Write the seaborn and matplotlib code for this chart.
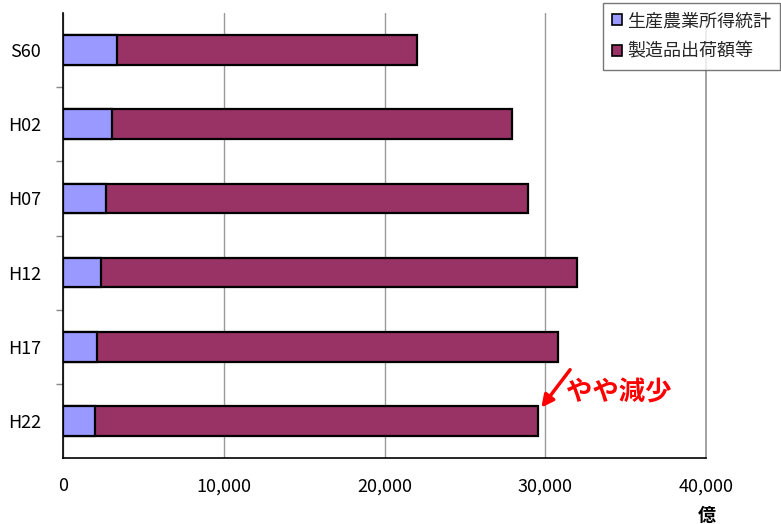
import matplotlib
matplotlib.use("Agg")
import matplotlib.pyplot as plt
from matplotlib.patches import Patch
from matplotlib.ticker import FixedLocator, FuncFormatter
import seaborn as sns
import pandas as pd

# Period labels (Showa 60 to Heisei 22)
years = ["S60", "H02", "H07", "H12", "H17", "H22"]
# Agricultural production income (生産農業所得統計), 億円
farm_income = [3360, 3050, 2670, 2360, 2120, 1990]
# Manufactured goods shipments etc. (製造品出荷額等), 億円
shipments = [18660, 24880, 26260, 29620, 28670, 27560]
x_ticks = [0, 10000, 20000, 30000, 40000]

totals = [a + b for a, b in zip(farm_income, shipments)]
df = pd.DataFrame({"year": years, "farm": farm_income, "total": totals})

sns.set_theme(style="white")
plt.rcParams["font.family"] = ["Noto Sans CJK JP", "DejaVu Sans"]

blue = "#9999FF"
wine = "#993366"

fig = plt.figure(figsize=(7.81, 5.24), dpi=100)
ax = fig.add_axes([63 / 781, (524 - 458) / 524, (706 - 63) / 781, (458 - 13) / 524])

# Stacked horizontal bars: totals underneath, farm income drawn on top
sns.barplot(data=df, y="year", x="total", orient="h", color=wine, width=0.4,
            edgecolor="black", linewidth=1.6, saturation=1, ax=ax, zorder=3)
sns.barplot(data=df, y="year", x="farm", orient="h", color=blue, width=0.4,
            edgecolor="black", linewidth=1.6, saturation=1, ax=ax, zorder=4)

ax.set_xlim(0, 40000)
ax.set_ylim(len(years) - 0.5, -0.5)
ax.xaxis.set_major_locator(FixedLocator(x_ticks))
ax.xaxis.set_major_formatter(FuncFormatter(lambda v, p: f"{int(v):,}"))
ax.grid(axis="x", color="#999999", linewidth=1.0, zorder=0)
ax.set_xlabel("")
ax.set_ylabel("")

ax.spines["top"].set_visible(False)
ax.spines["right"].set_color("#999999")
ax.spines["left"].set_color("black")
ax.spines["bottom"].set_color("black")
ax.spines["left"].set_linewidth(1.2)
ax.spines["bottom"].set_linewidth(1.2)

ax.tick_params(axis="y", length=0, pad=16, labelsize=13, labelcolor="black")
ax.tick_params(axis="x", length=0, pad=14, labelsize=13, labelcolor="black")
ax.yaxis.set_minor_locator(FixedLocator([i + 0.5 for i in range(len(years) - 1)]))
ax.tick_params(axis="y", which="minor", left=True, length=5, width=1, color="#888888", direction="out")

# Unit label below the axis end
fig.text(707 / 781, 1 - 515 / 524, "億", ha="center", va="center",
         fontsize=13, fontweight="bold", color="black")

# Annotation on the latest bar
ax.annotate("", xy=(totals[-1] + 100, len(years) - 1 - 0.15),
            xytext=(totals[-1] + 2100, len(years) - 1 - 0.72),
            arrowprops=dict(arrowstyle="-|>", color="red", lw=2.5, mutation_scale=18),
            zorder=6)
ax.text(31300, len(years) - 1 - 0.38, "やや減少", color="red", fontsize=19,
        fontweight="bold", ha="left", va="center", zorder=6)

handles = [Patch(facecolor=blue, edgecolor="black", linewidth=1.2, label="生産農業所得統計"),
           Patch(facecolor=wine, edgecolor="black", linewidth=1.2, label="製造品出荷額等")]
leg = fig.legend(handles=handles, loc="upper left", bbox_to_anchor=(603 / 781, 1 - 3 / 524),
                 frameon=True, fancybox=False, fontsize=13, handlelength=0.55,
                 handleheight=0.55, handletextpad=0.3, borderpad=0.5, labelspacing=0.7,
                 borderaxespad=0)
leg.get_frame().set_edgecolor("#555555")
leg.get_frame().set_linewidth(1.0)

fig.savefig("out.png", dpi=100, facecolor="white")
